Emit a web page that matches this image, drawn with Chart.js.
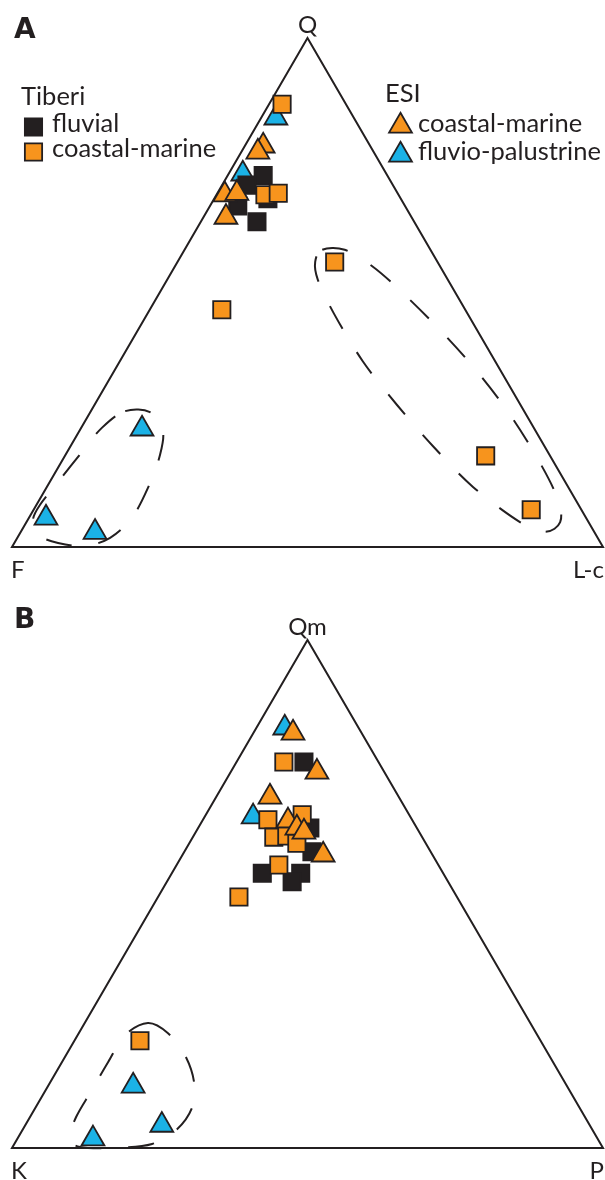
<!DOCTYPE html>
<html>
<head>
<meta charset="utf-8">
<script src="https://cdn.jsdelivr.net/npm/chart.js@4/dist/chart.umd.min.js"></script>
<style>
  html, body { margin: 0; padding: 0; background: #ffffff; }
  #wrap { position: relative; width: 605px; height: 1180px; overflow: hidden; }
  .panel { position: absolute; left: 0; width: 605px; height: 590px; }
  canvas { display: block; }
</style>
</head>
<body>
<div id="wrap">
  <div class="panel" style="top:0"><canvas id="chartA" width="605" height="590"></canvas></div>
  <div class="panel" style="top:590px"><canvas id="chartB" width="605" height="590"></canvas></div>
</div>
<script>
// ---- Panel A: Q–F–L-c compositions, percent [Q, F, L-c] ----
const qflTiberiFluvial = [
  [73.0, 21.0, 6.0], [71.1, 24.7, 4.2], [67.0, 28.3, 4.7], [68.4, 22.5, 9.1], [63.9, 26.6, 9.5]
];
const qflTiberiCoastal = [
  [87.0, 10.8, 2.2], [69.2, 22.6, 8.2], [69.5, 20.2, 10.3], [56.0, 17.4, 26.6],
  [46.6, 41.2, 12.2], [17.9, 10.9, 71.2], [7.3, 8.5, 84.2]
];
const qflEsiCoastal = [
  [78.8, 18.1, 3.1], [77.6, 19.6, 2.8], [69.2, 29.4, 1.4], [69.5, 27.2, 3.3], [64.8, 31.4, 3.8]
];
const qflEsiFluvio = [
  [84.3, 13.2, 2.5], [73.3, 24.3, 2.4], [23.2, 66.4, 10.4], [5.7, 91.4, 2.9], [2.9, 84.5, 12.6]
];

// ---- Panel B: Qm–K–P compositions, percent [Qm, K, P] ----
const qmkpTiberiFluvial = [
  [76.0, 12.6, 11.4], [63.0, 18.1, 18.9], [58.3, 20.1, 21.6], [54.1, 30.6, 15.3],
  [54.1, 24.1, 21.8], [52.4, 26.4, 21.2]
];
const qmkpTiberiCoastal = [
  [76.0, 16.0, 8.0], [64.6, 24.4, 11.0], [65.6, 18.1, 16.3], [61.2, 25.1, 13.7],
  [61.4, 22.8, 15.8], [60.0, 21.8, 18.2], [55.7, 27.0, 17.3], [49.4, 36.9, 13.7], [21.1, 67.8, 11.1]
];
const qmkpEsiCoastal = [
  [81.7, 11.6, 6.7], [74.0, 11.4, 14.6], [69.1, 21.8, 9.1], [64.4, 21.1, 14.5],
  [63.0, 20.3, 16.7], [62.2, 19.5, 18.3], [57.7, 18.5, 23.8]
];
const qmkpEsiFluvio = [
  [82.7, 12.5, 4.8], [65.2, 26.6, 8.2], [12.2, 73.4, 14.4], [4.5, 72.4, 23.1], [1.8, 85.4, 12.8]
];

// ---- Dashed grouping fields (boundary vertices as compositions) ----
const qflFieldFeldspathic = [
  [26.7, 67.5, 5.8], [26.5, 63.4, 10.1], [23.0, 63.0, 14.0], [18.1, 65.9, 16.0], [11.6, 71.2, 17.2],
  [5.7, 76.9, 17.4], [1.8, 82.5, 15.7], [0.2, 87.6, 12.2], [0.8, 91.8, 7.4], [2.4, 94.4, 3.2],
  [5.3, 93.8, 0.9], [8.3, 91.1, 0.6], [13.2, 85.3, 1.5], [18.7, 78.8, 2.5], [23.4, 73.1, 3.5]
];
const qflFieldLithic = [
  [58.4, 18.3, 23.3], [58.4, 14.5, 27.1], [55.2, 11.5, 33.3], [50.1, 9.0, 40.9], [42.4, 6.2, 51.4],
  [34.2, 4.0, 61.8], [25.5, 2.7, 71.8], [16.1, 2.4, 81.5], [9.2, 3.0, 87.8], [4.9, 4.8, 90.3],
  [3.0, 8.3, 88.7], [4.9, 11.6, 83.5], [11.8, 16.1, 72.1], [19.6, 18.8, 61.6], [27.9, 20.9, 51.2],
  [36.5, 22.4, 41.1], [45.8, 22.6, 31.6], [52.5, 22.0, 25.5], [56.0, 20.7, 23.3]
];
const qmkpFieldFeldspathic = [
  [24.6, 64.7, 10.7], [22.6, 62.3, 15.1], [18.3, 61.6, 20.1], [13.0, 62.7, 24.3], [7.9, 65.6, 26.5],
  [3.5, 70.5, 26.0], [0.8, 75.9, 23.3], [0.0, 82.6, 17.4], [0.2, 88.4, 11.4], [2.0, 89.2, 8.8],
  [6.1, 86.1, 7.8], [11.4, 80.8, 7.8], [16.9, 75.3, 7.8], [22.2, 69.8, 8.0]
];

// ---- Labels ----
const panelALetter = 'A';
const panelBLetter = 'B';
const qflApices = ['Q', 'F', 'L-c'];
const qmkpApices = ['Qm', 'K', 'P'];
const legendTiberi = ['Tiberi', 'fluvial', 'coastal-marine'];
const legendEsi = ['ESI', 'coastal-marine', 'fluvio-palustrine'];

// ---- Styling ----
const INK = '#231F20';
const ORANGE = '#F7941D';
const CYAN = '#1BB2E6';
const TEXT_FONT = 'Lato, "Open Sans", "Noto Sans", sans-serif';
const LETTER_FONT = '"DejaVu Sans", "Liberation Sans", sans-serif';
const SQUARE_R = 12.2;
const TRIANGLE_R = 13.2;
const MARK_EDGE = 1.8;

// ternary [top, left, right] -> plot plane (x along base, y = top fraction)
function toXY(c) {
  const s = c[0] + c[1] + c[2];
  const top = c[0] / s, right = c[2] / s;
  return { x: right + top / 2, y: top };
}

function markerSet(label, rows, style, fill, order) {
  const r = style === 'triangle' ? TRIANGLE_R : SQUARE_R;
  return {
    label, data: rows.map(toXY), order, clip: false,
    showLine: false, pointStyle: style, pointRadius: r, pointHoverRadius: r,
    backgroundColor: fill, borderColor: INK, borderWidth: MARK_EDGE, pointBorderWidth: MARK_EDGE
  };
}

function frameSet() {
  // outline of the ternary field through its three apices
  const top = toXY([100, 0, 0]), left = toXY([0, 100, 0]), right = toXY([0, 0, 100]);
  return {
    label: 'frame', data: [left, right, top, left, right], order: 9, clip: false,
    showLine: true, pointRadius: 0, borderColor: INK, borderWidth: 2,
    borderJoinStyle: 'miter', tension: 0, fill: false
  };
}

// closed, smoothed dashed outline through the field vertices
function fieldPlugin(rings) {
  return {
    id: 'fieldOutlines',
    beforeDatasetsDraw(chart) {
      const { ctx, scales: { x, y } } = chart;
      ctx.save();
      ctx.strokeStyle = INK;
      ctx.lineWidth = 2;
      ctx.lineCap = 'butt';
      ctx.setLineDash([26, 27]);
      for (const ring of rings) {
        const p = ring.map(c => { const t = toXY(c); return [x.getPixelForValue(t.x), y.getPixelForValue(t.y)]; });
        const n = p.length;
        ctx.beginPath();
        ctx.moveTo(p[0][0], p[0][1]);
        for (let i = 0; i < n; i++) {
          const p0 = p[(i - 1 + n) % n], p1 = p[i], p2 = p[(i + 1) % n], p3 = p[(i + 2) % n];
          ctx.bezierCurveTo(
            p1[0] + (p2[0] - p0[0]) / 6, p1[1] + (p2[1] - p0[1]) / 6,
            p2[0] - (p3[0] - p1[0]) / 6, p2[1] - (p3[1] - p1[1]) / 6,
            p2[0], p2[1]);
        }
        ctx.stroke();
      }
      ctx.restore();
    }
  };
}

// panel letter, apex names and (optionally) the two-group legend
function textPlugin(letter, apices, withLegend) {
  return {
    id: 'panelText',
    afterDatasetsDraw(chart) {
      const { ctx, scales: { x, y } } = chart;
      const top = toXY([100, 0, 0]), left = toXY([0, 100, 0]), right = toXY([0, 0, 100]);
      const tx = x.getPixelForValue(top.x), ty = y.getPixelForValue(top.y);
      const lx = x.getPixelForValue(left.x), ly = y.getPixelForValue(left.y);
      const rx = x.getPixelForValue(right.x);
      ctx.save();
      ctx.fillStyle = INK;
      ctx.textBaseline = 'alphabetic';

      ctx.font = 'bold 28px ' + LETTER_FONT;
      ctx.textAlign = 'left';
      ctx.fillText(letter, 14, 38);

      ctx.font = '24px ' + TEXT_FONT;
      ctx.textAlign = 'center';
      ctx.fillText(apices[0], tx, ty - 5);
      ctx.textAlign = 'left';
      ctx.fillText(apices[1], lx - 1, ly + 31);
      ctx.textAlign = 'right';
      ctx.fillText(apices[2], rx + 1, ly + 31);

      if (withLegend) {
        const H = Chart.helpers;
        ctx.font = '25.5px ' + TEXT_FONT;
        ctx.textAlign = 'left';
        ctx.fillText(legendTiberi[0], 21, 105);
        ctx.fillText(legendTiberi[1], 52, 132);
        ctx.fillText(legendTiberi[2], 52, 157);
        ctx.fillText(legendEsi[0], 385, 102);
        ctx.fillText(legendEsi[1], 418, 132);
        ctx.fillText(legendEsi[2], 418, 160);

        const keys = [
          ['rect', INK, SQUARE_R, 33.5, 127],
          ['rect', ORANGE, SQUARE_R, 33.5, 152],
          ['triangle', ORANGE, TRIANGLE_R, 400.5, 126],
          ['triangle', CYAN, TRIANGLE_R, 400.5, 155]
        ];
        ctx.strokeStyle = INK;
        ctx.lineWidth = MARK_EDGE;
        for (const [style, fill, r, px, py] of keys) {
          ctx.fillStyle = fill;
          H.drawPoint(ctx, { pointStyle: style, radius: r, rotation: 0, borderWidth: MARK_EDGE }, px, py);
        }
      }
      ctx.restore();
    }
  };
}

function makeChart(id, groups, rings, yRange, letter, apices, withLegend) {
  // x: base from px 12 to px 603; y: base/apex rows given by yRange
  return new Chart(document.getElementById(id), {
    type: 'scatter',
    data: {
      datasets: [
        markerSet('ESI coastal-marine', groups.esiCoastal, 'triangle', ORANGE, 1),
        markerSet('Tiberi coastal-marine', groups.tiberiCoastal, 'rect', ORANGE, 2),
        markerSet('Tiberi fluvial', groups.tiberiFluvial, 'rect', INK, 3),
        markerSet('ESI fluvio-palustrine', groups.esiFluvio, 'triangle', CYAN, 4),
        frameSet()
      ]
    },
    options: {
      responsive: false,
      animation: false,
      events: [],
      layout: { padding: 0, autoPadding: false },
      scales: {
        x: { type: 'linear', display: false, min: -12 / 591, max: 593 / 591 },
        y: { type: 'linear', display: false, min: yRange[0], max: yRange[1] }
      },
      plugins: { legend: { display: false }, tooltip: { enabled: false } }
    },
    plugins: [fieldPlugin(rings), textPlugin(letter, apices, withLegend)]
  });
}

// panel A: base at row 547, apex at row 38 of a 590-row canvas
makeChart('chartA',
  { tiberiFluvial: qflTiberiFluvial, tiberiCoastal: qflTiberiCoastal, esiCoastal: qflEsiCoastal, esiFluvio: qflEsiFluvio },
  [qflFieldFeldspathic, qflFieldLithic],
  [-(590 - 547) / 509, 547 / 509],
  panelALetter, qflApices, true);

// panel B: base at row 558, apex at row 50
makeChart('chartB',
  { tiberiFluvial: qmkpTiberiFluvial, tiberiCoastal: qmkpTiberiCoastal, esiCoastal: qmkpEsiCoastal, esiFluvio: qmkpEsiFluvio },
  [qmkpFieldFeldspathic],
  [-(590 - 558) / 508, 558 / 508],
  panelBLetter, qmkpApices, false);
</script>
</body>
</html>
